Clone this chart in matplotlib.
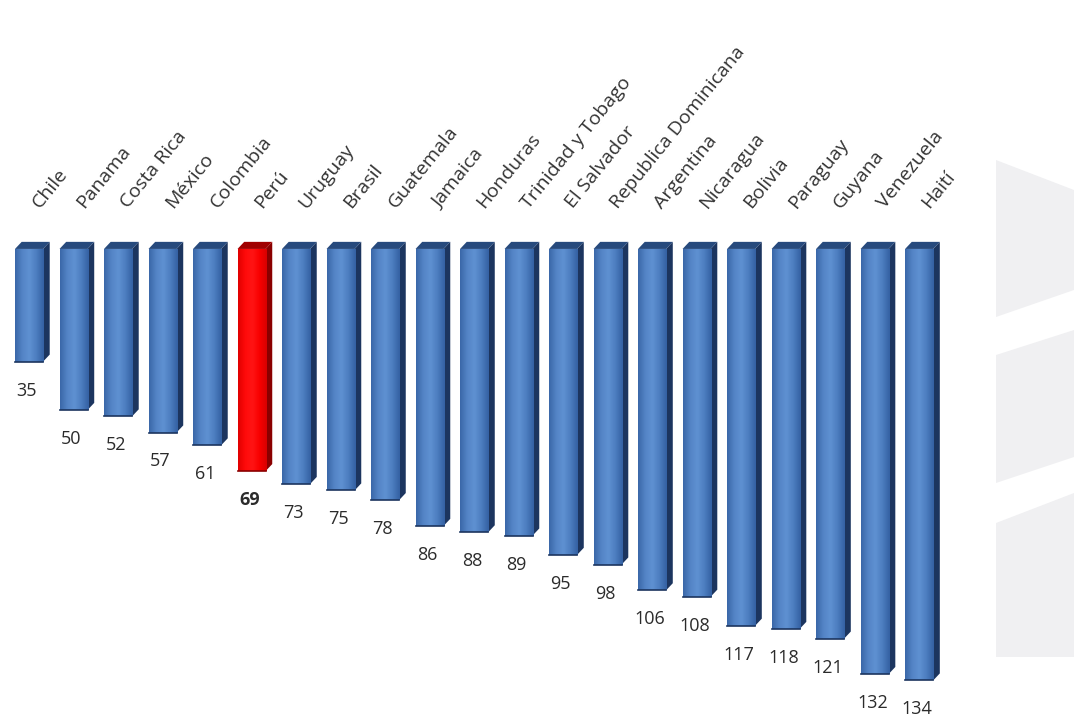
import numpy as np
import matplotlib
matplotlib.use('Agg')
import matplotlib.pyplot as plt
from matplotlib.patches import Polygon, Rectangle

# data
paises = ["Chile", "Panama", "Costa Rica", "México", "Colombia", "Perú",
          "Uruguay", "Brasil", "Guatemala", "Jamaica", "Honduras",
          "Trinidad y Tobago", "El Salvador", "Republica Dominicana",
          "Argentina", "Nicaragua", "Bolivia", "Paraguay", "Guyana",
          "Venezuela", "Haití"]
ranking = [35, 50, 52, 57, 61, 69, 73, 75, 78, 86, 88, 89, 95, 98,
           106, 108, 117, 118, 121, 132, 134]
destacado = "Perú"

plt.rcParams['font.family'] = ['Open Sans', 'DejaVu Sans']

fig = plt.figure(figsize=(10.74, 7.18), dpi=100)
fig.patch.set_facecolor('white')

# grey watermark shapes on the right
def fy(y):
    return 1 - y / 718.0

x0, x1 = 996 / 1074.0, 1.0
shapes = [
    [(x0, fy(160)), (x1, fy(190)), (x1, fy(290)), (x0, fy(317))],
    [(x0, fy(355)), (x1, fy(330)), (x1, fy(457)), (x0, fy(483))],
    [(x0, fy(523)), (x1, fy(493)), (x1, fy(657)), (x0, fy(657))],
]
for s in shapes:
    fig.patches.append(Polygon(s, closed=True, transform=fig.transFigure,
                               facecolor='#f0f0f2', edgecolor='none', zorder=0))

ax = fig.add_axes([0, 0, 1, 1])
ax.set_facecolor('none')

w = 0.63      # front face width
dx = 0.15     # depth offset in x
dy = 2.2      # depth offset in y (value units)

blue_grad = matplotlib.colors.LinearSegmentedColormap.from_list(
    'b', ['#3a67a8', '#5484c6', '#5f91d2', '#4c7dbf', '#3461a3'])
red_grad = matplotlib.colors.LinearSegmentedColormap.from_list(
    'r', ['#e00000', '#ff0a0a', '#ff1414', '#f80000', '#d80000'])
grad = np.linspace(0, 1, 64).reshape(1, -1)

for i, (p, v) in enumerate(zip(paises, ranking)):
    hi = p == destacado
    cmap = red_grad if hi else blue_grad
    side_c = '#8a0000' if hi else '#1c355f'
    top_c = '#a00000' if hi else '#274a7d'
    xl, xr = i - w / 2, i + w / 2

    # side face
    ax.add_patch(Polygon([(xr, 0), (xr + dx, -dy), (xr + dx, v - dy), (xr, v)],
                         closed=True, facecolor=side_c, edgecolor='none', zorder=2))
    # top face
    ax.add_patch(Polygon([(xl, 0), (xl + dx, -dy), (xr + dx, -dy), (xr, 0)],
                         closed=True, facecolor=top_c, edgecolor='none', zorder=2))
    # front face with gradient
    rect = Rectangle((xl, 0), w, v, facecolor='none', edgecolor='none', zorder=3)
    ax.add_patch(rect)
    im = ax.imshow(grad, cmap=cmap, extent=(xl, xr, v, 0), aspect='auto',
                   interpolation='bicubic', zorder=3)
    im.set_clip_path(rect)
    ax.plot([xl, xr], [v, v], color=side_c, lw=1.2, zorder=4)

    # value label
    ax.text(i - 0.05, v + 9, str(v), ha='center', va='center', fontsize=13,
            color='#2b2b2b', fontweight='bold' if hi else 'normal', zorder=5)
    # country label
    ax.text(i + 0.3, -11.5, p, rotation=51, rotation_mode='anchor',
            ha='left', va='bottom', fontsize=14, color='#333333', zorder=5)

ax.set_xlim(-0.652, 23.48)
ax.set_ylim(145.65, -77.3)
ax.axis('off')

fig.savefig('out.png', dpi=100, facecolor='white')
